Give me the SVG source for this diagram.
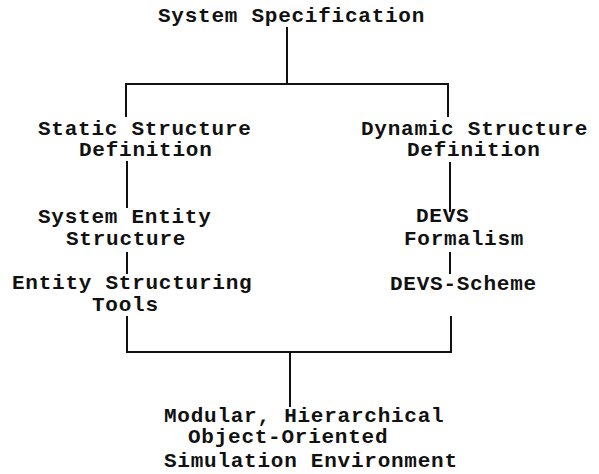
<svg xmlns="http://www.w3.org/2000/svg" width="599" height="474" viewBox="0 0 599 474">
  <style>
    .lbl { font-family: "Liberation Mono", "DejaVu Sans Mono", monospace; font-size: 21px; font-weight: bold; letter-spacing: 0.75px; fill: #111; }
    .wire { stroke: #111; stroke-width: 2; fill: none; stroke-linecap: square; }
  </style>
  <rect width="599" height="474" fill="#fff"/>

  <!-- connectors -->
  <g id="connectors" class="wire">
    <path d="M287 28 V84"/>
    <path d="M126 116 V84 H448 V116"/>
    <path d="M127 162 V207"/>
    <path d="M450 163 V211"/>
    <path d="M127 253 V273"/>
    <path d="M450 253 V273"/>
    <path d="M127 317 V352 H451 V317"/>
    <path d="M290 352 V406"/>
  </g>

  <g id="system-specification">
    <text class="lbl" x="158" y="22">System Specification</text>
  </g>

  <g id="static-structure-definition">
    <text class="lbl" x="38" y="135">Static Structure</text>
    <text class="lbl" x="79" y="156">Definition</text>
  </g>

  <g id="dynamic-structure-definition">
    <text class="lbl" x="361" y="135">Dynamic Structure</text>
    <text class="lbl" x="407" y="156">Definition</text>
  </g>

  <g id="system-entity-structure">
    <text class="lbl" x="38" y="223">System Entity</text>
    <text class="lbl" x="66" y="245">Structure</text>
  </g>

  <g id="devs-formalism">
    <text class="lbl" x="416" y="222">DEVS</text>
    <text class="lbl" x="404" y="245">Formalism</text>
  </g>

  <g id="entity-structuring-tools">
    <text class="lbl" x="12" y="289">Entity Structuring</text>
    <text class="lbl" x="92" y="311">Tools</text>
  </g>

  <g id="devs-scheme">
    <text class="lbl" x="390" y="290">DEVS-Scheme</text>
  </g>

  <g id="simulation-environment">
    <text class="lbl" x="164" y="422">Modular, Hierarchical</text>
    <text class="lbl" x="188" y="443">Object-Oriented</text>
    <text class="lbl" x="164" y="467">Simulation Environment</text>
  </g>
</svg>
